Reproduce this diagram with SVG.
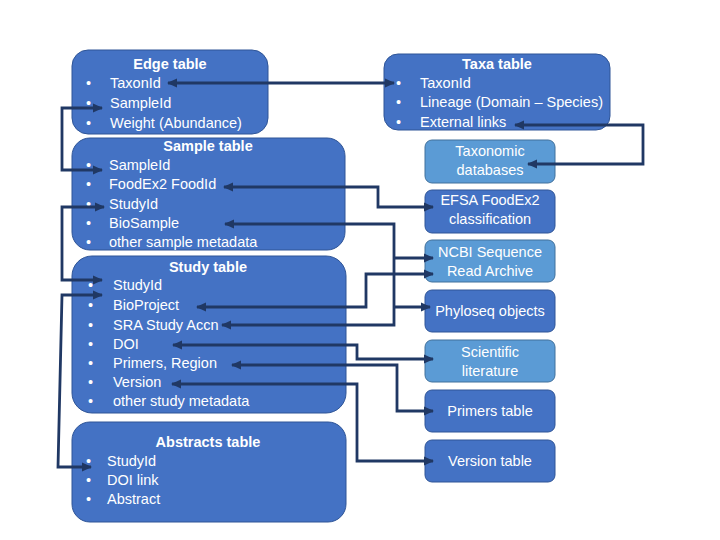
<svg xmlns="http://www.w3.org/2000/svg" width="720" height="540" viewBox="0 0 720 540">
<style>
.box{fill:#4472C4;stroke:#2F5597;stroke-width:1}
.lbox{fill:#5B9BD5;stroke:#41719C;stroke-width:1}
text{font-family:"Liberation Sans","Open Sans",sans-serif;fill:#fff;font-size:14.5px}
.t{font-weight:bold;text-anchor:middle}
.c{text-anchor:middle}
.con path{fill:none;stroke:#203864;stroke-width:2.8}
</style>
<defs>
<marker id="ah" markerUnits="userSpaceOnUse" markerWidth="10" markerHeight="10" viewBox="0 0 10 10" refX="9" refY="5" orient="auto-start-reverse">
<path d="M0,0.5 L10,5 L0,9.5 z" fill="#203864"/>
</marker>
</defs>
<rect width="720" height="540" fill="#fff"/>

<g id="edge-table">
<rect class="box" x="72" y="50" width="196" height="84" rx="16"/>
<text class="t" x="170" y="69">Edge table</text>
<text x="86" y="88">•</text><text x="110" y="88">TaxonId</text>
<text x="86" y="108">•</text><text x="110" y="108">SampleId</text>
<text x="86" y="128">•</text><text x="110" y="128">Weight (Abundance)</text>
</g>

<g id="sample-table">
<rect class="box" x="72" y="138" width="273" height="112" rx="18"/>
<text class="t" x="208" y="151">Sample table</text>
<text x="86" y="170">•</text><text x="109" y="170">SampleId</text>
<text x="86" y="189">•</text><text x="109" y="189">FoodEx2 FoodId</text>
<text x="86" y="209">•</text><text x="109" y="209">StudyId</text>
<text x="86" y="228">•</text><text x="109" y="228">BioSample</text>
<text x="86" y="247">•</text><text x="109" y="247">other sample metadata</text>
</g>

<g id="study-table">
<rect class="box" x="72" y="256" width="274" height="157" rx="20"/>
<text class="t" x="208" y="272">Study table</text>
<text x="88" y="290">•</text><text x="113" y="290">StudyId</text>
<text x="88" y="310">•</text><text x="113" y="310">BioProject</text>
<text x="88" y="330">•</text><text x="113" y="330">SRA Study Accn</text>
<text x="88" y="349">•</text><text x="113" y="349">DOI</text>
<text x="88" y="368">•</text><text x="113" y="368">Primers, Region</text>
<text x="88" y="387">•</text><text x="113" y="387">Version</text>
<text x="88" y="406">•</text><text x="113" y="406">other study metadata</text>
</g>

<g id="abstracts-table">
<rect class="box" x="72" y="422" width="274" height="100" rx="18"/>
<text class="t" x="208" y="447">Abstracts table</text>
<text x="86" y="466">•</text><text x="107" y="466">StudyId</text>
<text x="86" y="485">•</text><text x="107" y="485">DOI link</text>
<text x="86" y="504">•</text><text x="107" y="504">Abstract</text>
</g>

<g id="taxa-table">
<rect class="box" x="384" y="54" width="226" height="76" rx="14"/>
<text class="t" x="497" y="69">Taxa table</text>
<text x="396" y="88">•</text><text x="420" y="88">TaxonId</text>
<text x="396" y="107">•</text><text x="420" y="107">Lineage (Domain – Species)</text>
<text x="396" y="127">•</text><text x="420" y="127">External links</text>
</g>

<g id="taxonomic-databases">
<rect class="lbox" x="425" y="140" width="130" height="43" rx="7"/>
<text class="c" x="490" y="156">Taxonomic</text>
<text class="c" x="490" y="175">databases</text>
</g>

<g id="efsa">
<rect class="box" x="425" y="190" width="130" height="43" rx="7"/>
<text class="c" x="490" y="205">EFSA FoodEx2</text>
<text class="c" x="490" y="224">classification</text>
</g>

<g id="ncbi-sra">
<rect class="lbox" x="425" y="240" width="130" height="42" rx="7"/>
<text class="c" x="490" y="257">NCBI Sequence</text>
<text class="c" x="490" y="276">Read Archive</text>
</g>

<g id="phyloseq">
<rect class="box" x="425" y="290" width="130" height="42" rx="7"/>
<text class="c" x="490" y="316">Phyloseq objects</text>
</g>

<g id="scientific-literature">
<rect class="lbox" x="425" y="340" width="130" height="42" rx="7"/>
<text class="c" x="490" y="357">Scientific</text>
<text class="c" x="490" y="376">literature</text>
</g>

<g id="primers-table">
<rect class="box" x="425" y="390" width="130" height="42" rx="7"/>
<text class="c" x="490" y="416">Primers table</text>
</g>

<g id="version-table">
<rect class="box" x="425" y="440" width="130" height="42" rx="7"/>
<text class="c" x="490" y="466">Version table</text>
</g>

<g id="connectors" class="con">
<path d="M168,83 L394,83" marker-start="url(#ah)" marker-end="url(#ah)"/>
<path d="M102,108 L62,108 L62,170 L102,170" marker-start="url(#ah)" marker-end="url(#ah)"/>
<path d="M104,207 L62,207 L62,280 L102,280" marker-start="url(#ah)" marker-end="url(#ah)"/>
<path d="M102,295 L62,295 L58,467 L91,467" marker-start="url(#ah)" marker-end="url(#ah)"/>
<path d="M515,125 L643,125 L643,164 L528,164" marker-start="url(#ah)" marker-end="url(#ah)"/>
<path d="M224,187 L378,187 L378,207 L433,207" marker-start="url(#ah)" marker-end="url(#ah)"/>
<path d="M225,224 L394,224 L394,325 L222,325" marker-start="url(#ah)" marker-end="url(#ah)"/>
<path d="M394,258 L433,258" marker-end="url(#ah)"/>
<path d="M394,307 L430,307" marker-end="url(#ah)"/>
<path d="M197,307 L366,307 L366,274 L433,274" marker-start="url(#ah)" marker-end="url(#ah)"/>
<path d="M173,345 L357,345 L357,359 L433,359" marker-start="url(#ah)" marker-end="url(#ah)"/>
<path d="M232,365 L397,365 L397,411 L433,411" marker-start="url(#ah)" marker-end="url(#ah)"/>
<path d="M172,384 L357,384 L357,461 L433,461" marker-start="url(#ah)" marker-end="url(#ah)"/>
</g>
</svg>
